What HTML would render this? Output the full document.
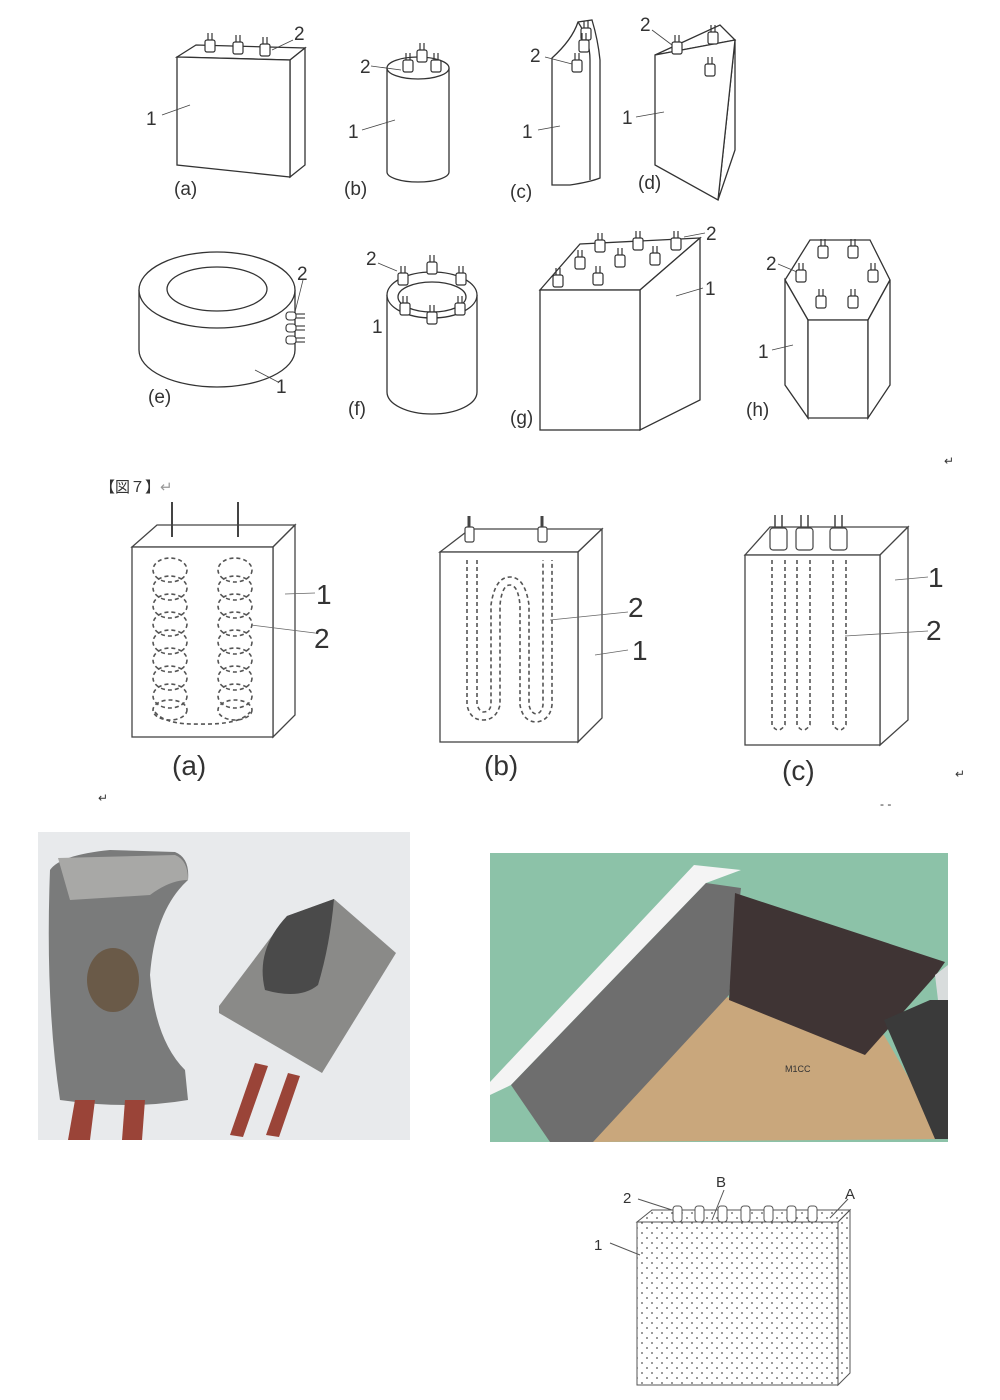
<!DOCTYPE html>
<html><head><meta charset="utf-8"><style>
html,body{margin:0;padding:0;background:#fff}
svg{display:block}
text{font-family:"Liberation Sans","Noto Sans CJK JP",sans-serif;fill:#333}
</style></head><body>
<svg width="1000" height="1400" viewBox="0 0 1000 1400" xmlns="http://www.w3.org/2000/svg">
<defs>
<pattern id="dots" width="10" height="10" patternUnits="userSpaceOnUse">
<circle cx="2" cy="3" r="0.9" fill="#555"/><circle cx="7" cy="8" r="0.9" fill="#555"/>
</pattern>
<g id="term"><rect x="-5" y="0" width="10" height="12" rx="2" fill="#fff" stroke="#333" stroke-width="1.2"/><line x1="-2" y1="0" x2="-2" y2="-7" stroke="#333" stroke-width="1.2"/><line x1="2" y1="0" x2="2" y2="-7" stroke="#333" stroke-width="1.2"/></g>
</defs>
<g fill="#fff" stroke="#333" stroke-width="1.3">
<polygon points="177,57 196,45 305,48 290,60"/>
<polygon points="290,60 305,48 305,165 290,177"/>
<polygon points="177,57 290,60 290,177 177,165"/>
<use href="#term" x="210" y="40"/><use href="#term" x="238" y="42"/><use href="#term" x="265" y="44"/>
<path d="M387,68 L387,172 A31,10 0 0 0 449,172 L449,68"/>
<ellipse cx="418" cy="68" rx="31" ry="11"/>
<use href="#term" x="408" y="60"/><use href="#term" x="422" y="50"/><use href="#term" x="436" y="60"/>
<path d="M552,58 Q572,40 578,22 L592,20 Q598,40 600,60 L600,178 Q590,182 570,185 L552,185 Z"/>
<path d="M578,22 Q590,40 590,60 L590,180"/>
<use href="#term" x="586" y="28"/><use href="#term" x="584" y="40"/><use href="#term" x="577" y="60"/>
<polygon points="655,55 720,25 735,40"/>
<polygon points="735,40 718,200 735,150"/>
<polygon points="655,55 735,40 718,200 655,165"/>
<use href="#term" x="677" y="42"/><use href="#term" x="713" y="32"/><use href="#term" x="710" y="64"/>
<path d="M139,290 L139,350 A78,37 0 0 0 295,350 L295,290"/>
<ellipse cx="217" cy="290" rx="78" ry="38"/>
<ellipse cx="217" cy="289" rx="50" ry="22"/>
<g stroke-width="1.1"><rect x="286" y="312" width="10" height="8" rx="3"/><rect x="286" y="324" width="10" height="8" rx="3"/><rect x="286" y="336" width="10" height="8" rx="3"/>
<line x1="296" y1="314" x2="305" y2="314"/><line x1="296" y1="318" x2="305" y2="318"/><line x1="296" y1="326" x2="305" y2="326"/><line x1="296" y1="330" x2="305" y2="330"/><line x1="296" y1="338" x2="305" y2="338"/><line x1="296" y1="342" x2="305" y2="342"/></g>
<path d="M387,295 L387,392 A45,22 0 0 0 477,392 L477,295"/>
<ellipse cx="432" cy="295" rx="45" ry="23"/>
<ellipse cx="432" cy="297" rx="34" ry="15"/>
<use href="#term" x="403" y="273"/><use href="#term" x="432" y="262"/><use href="#term" x="461" y="273"/><use href="#term" x="405" y="303"/><use href="#term" x="432" y="312"/><use href="#term" x="460" y="303"/>
<polygon points="540,290 580,244 700,238 640,290"/>
<polygon points="640,290 700,238 700,400 640,430"/>
<rect x="540" y="290" width="100" height="140"/>
<use href="#term" x="600" y="240"/><use href="#term" x="638" y="238"/><use href="#term" x="676" y="238"/><use href="#term" x="580" y="257"/><use href="#term" x="620" y="255"/><use href="#term" x="655" y="253"/><use href="#term" x="558" y="275"/><use href="#term" x="598" y="273"/>
<polygon points="785,280 810,240 870,240 890,280 868,320 808,320"/>
<polygon points="785,280 808,320 808,418 785,385"/>
<polygon points="808,320 868,320 868,418 808,418"/>
<polygon points="868,320 890,280 890,385 868,418"/>
<use href="#term" x="823" y="246"/><use href="#term" x="853" y="246"/><use href="#term" x="801" y="270"/><use href="#term" x="873" y="270"/><use href="#term" x="821" y="296"/><use href="#term" x="853" y="296"/>
</g>
<g stroke="#444" stroke-width="0.8">
<line x1="162" y1="115" x2="190" y2="105"/><line x1="293" y1="40" x2="272" y2="50"/>
<line x1="371" y1="66" x2="401" y2="70"/><line x1="362" y1="130" x2="395" y2="120"/>
<line x1="545" y1="57" x2="572" y2="64"/><line x1="538" y1="130" x2="560" y2="126"/>
<line x1="652" y1="30" x2="672" y2="45"/><line x1="636" y1="117" x2="664" y2="112"/>
<line x1="303" y1="280" x2="295" y2="312"/><line x1="278" y1="382" x2="255" y2="370"/>
<line x1="378" y1="263" x2="397" y2="271"/><line x1="705" y1="233" x2="684" y2="237"/><line x1="703" y1="288" x2="676" y2="296"/>
<line x1="778" y1="264" x2="797" y2="272"/><line x1="772" y1="350" x2="793" y2="345"/>
</g>
<g font-size="19">
<text x="146" y="125">1</text><text x="294" y="40">2</text><text x="174" y="195">(a)</text>
<text x="360" y="73">2</text><text x="348" y="138">1</text><text x="344" y="195">(b)</text>
<text x="530" y="62">2</text><text x="522" y="138">1</text><text x="510" y="198">(c)</text>
<text x="640" y="31">2</text><text x="622" y="124">1</text><text x="638" y="189">(d)</text>
<text x="297" y="280">2</text><text x="276" y="393">1</text><text x="148" y="403">(e)</text>
<text x="366" y="265">2</text><text x="372" y="333">1</text><text x="348" y="415">(f)</text>
<text x="706" y="240">2</text><text x="705" y="295">1</text><text x="510" y="424">(g)</text>
<text x="766" y="270">2</text><text x="758" y="358">1</text><text x="746" y="416">(h)</text>
</g>
<text x="944" y="465" font-size="12" fill="#888">↵</text>
<text x="100" y="492" font-size="15" fill="#222">【図７】<tspan fill="#999">↵</tspan></text>
<g fill="#fff" stroke="#444" stroke-width="1.3">
<polygon points="132,547 157,525 295,525 273,547"/>
<polygon points="273,547 295,525 295,715 273,737"/>
<rect x="132" y="547" width="141" height="190"/>
<line x1="172" y1="502" x2="172" y2="537" stroke-width="2"/><line x1="238" y1="502" x2="238" y2="537" stroke-width="2"/>
<polygon points="440,552 470,529 602,529 578,552"/>
<polygon points="578,552 602,529 602,718 578,742"/>
<rect x="440" y="552" width="138" height="190"/>
<polygon points="745,555 770,527 908,527 880,555"/>
<polygon points="880,555 908,527 908,720 880,745"/>
<rect x="745" y="555" width="135" height="190"/>
</g>
<g fill="none" stroke="#555" stroke-width="1.6" stroke-dasharray="4,3">
<g id="coil"><ellipse cx="170" cy="570" rx="17" ry="12"/><ellipse cx="170" cy="588" rx="17" ry="12"/><ellipse cx="170" cy="606" rx="17" ry="12"/><ellipse cx="170" cy="624" rx="17" ry="12"/><ellipse cx="170" cy="642" rx="17" ry="12"/><ellipse cx="170" cy="660" rx="17" ry="12"/><ellipse cx="170" cy="678" rx="17" ry="12"/><ellipse cx="170" cy="696" rx="17" ry="12"/><ellipse cx="170" cy="710" rx="17" ry="10"/></g>
<use href="#coil" x="65"/>
<path d="M155,712 Q165,725 200,724 Q240,725 250,712"/>
<path d="M467,560 L467,705 Q470,720 483,720 Q496,720 500,705 L500,605 Q502,585 510,585 Q518,585 520,605 L520,705 Q523,722 537,722 Q550,720 552,705 L552,560"/>
<path d="M477,560 L477,705 Q480,712 483,712 Q490,712 491,705 L491,605 Q495,577 510,577 Q525,577 529,605 L529,705 Q531,714 537,714 Q542,712 543,705 L543,560"/>
<path d="M772,560 L772,725 Q778,735 785,725 L785,560"/>
<path d="M797,560 L797,725 Q803,735 810,725 L810,560"/>
<path d="M833,560 L833,725 Q840,735 846,725 L846,560"/>
</g>
<g fill="#fff" stroke="#444" stroke-width="1.2">
<rect x="465" y="527" width="9" height="15" rx="2"/><line x1="469" y1="527" x2="469" y2="516" stroke-width="3"/>
<rect x="538" y="527" width="9" height="15" rx="2"/><line x1="542" y1="527" x2="542" y2="516" stroke-width="3"/>
<rect x="770" y="528" width="17" height="22" rx="3"/><rect x="796" y="528" width="17" height="22" rx="3"/><rect x="830" y="528" width="17" height="22" rx="3"/>
<path d="M775,528 V515 M782,528 V515 M801,528 V515 M808,528 V515 M835,528 V515 M842,528 V515" stroke-width="1.5"/>
</g>
<g stroke="#666" stroke-width="0.8">
<line x1="285" y1="594" x2="315" y2="593"/><line x1="251" y1="625" x2="315" y2="633"/>
<line x1="550" y1="620" x2="628" y2="612"/><line x1="595" y1="655" x2="628" y2="650"/>
<line x1="895" y1="580" x2="928" y2="577"/><line x1="845" y1="636" x2="928" y2="631"/>
</g>
<g font-size="28" fill="#222">
<text x="316" y="604">1</text><text x="314" y="648">2</text><text x="172" y="775">(a)</text>
<text x="628" y="617">2</text><text x="632" y="660">1</text><text x="484" y="775">(b)</text>
<text x="928" y="587">1</text><text x="926" y="640">2</text><text x="782" y="780">(c)</text>
</g>
<text x="955" y="778" font-size="12" fill="#888">↵</text>
<text x="98" y="802" font-size="12" fill="#888">↵</text>
<text x="880" y="808" font-size="12" fill="#444">- -</text>
<rect x="38" y="832" width="372" height="308" fill="#e8eaec"/>
<path d="M50,870 Q60,855 110,850 L175,852 Q190,858 188,880 Q155,910 150,975 Q155,1040 185,1070 L188,1100 Q130,1110 60,1100 Q45,1000 50,870 Z" fill="#7a7b7b"/>
<path d="M58,858 L175,855 Q188,860 188,880 Q170,880 150,895 L70,900 Z" fill="#a8a8a6"/>
<ellipse cx="113" cy="980" rx="26" ry="32" fill="#6a5a48"/>
<path d="M219,1006 L287,916 L334,899 L396,953 L322,1073 L219,1013 Z" fill="#8a8a88"/>
<path d="M287,916 Q255,950 265,990 Q300,1000 318,985 Q330,945 334,899 Z" fill="#4a4a4a"/>
<path d="M75,1100 L95,1100 L90,1140 L68,1140 Z" fill="#9a4438"/><path d="M125,1100 L145,1100 L142,1140 L122,1140 Z" fill="#9a4438"/>
<path d="M255,1063 L268,1066 L243,1137 L230,1135 Z" fill="#9a4438"/><path d="M288,1073 L300,1076 L279,1137 L266,1135 Z" fill="#9a4438"/>
<rect x="490" y="853" width="458" height="289" fill="#8cc2a8"/>
<polygon points="490,1082 694,865 741,870 706,883 511,1085 490,1095" fill="#f4f4f4"/>
<polygon points="718,995 884,1035 944,1139 593,1142" fill="#c9a77c"/>
<polygon points="511,1085 706,883 741,888 729,995 593,1142 550,1142" fill="#6e6e6e"/>
<polygon points="735,893 945,962 936,975 865,1055 729,1000" fill="#3f3434"/>
<polygon points="884,1020 930,1000 948,1000 948,1139 935,1139" fill="#3a3a3a"/>
<polygon points="935,975 948,965 948,1000 938,1000" fill="#d8dcdc"/>
<text x="785" y="1072" font-size="9" fill="#222">M1CC</text>
<g stroke="#555" stroke-width="1">
<polygon points="637,1222 652,1210 850,1210 838,1222" fill="url(#dots)"/>
<polygon points="838,1222 850,1210 850,1373 838,1385" fill="url(#dots)"/>
<rect x="637" y="1222" width="201" height="163" fill="url(#dots)"/>
<g fill="#fff"><rect x="673" y="1206" width="9" height="16" rx="3"/><rect x="695" y="1206" width="9" height="16" rx="3"/><rect x="718" y="1206" width="9" height="16" rx="3"/><rect x="741" y="1206" width="9" height="16" rx="3"/><rect x="764" y="1206" width="9" height="16" rx="3"/><rect x="787" y="1206" width="9" height="16" rx="3"/><rect x="808" y="1206" width="9" height="16" rx="3"/></g>
<line x1="638" y1="1199" x2="672" y2="1210"/><line x1="724" y1="1190" x2="712" y2="1220"/><line x1="848" y1="1199" x2="830" y2="1218"/><line x1="610" y1="1243" x2="640" y2="1255"/>
</g>
<g font-size="15"><text x="623" y="1203">2</text><text x="716" y="1187" fill="#111">B</text><text x="845" y="1199" fill="#111">A</text><text x="594" y="1250">1</text></g>
</svg>
</body></html>
